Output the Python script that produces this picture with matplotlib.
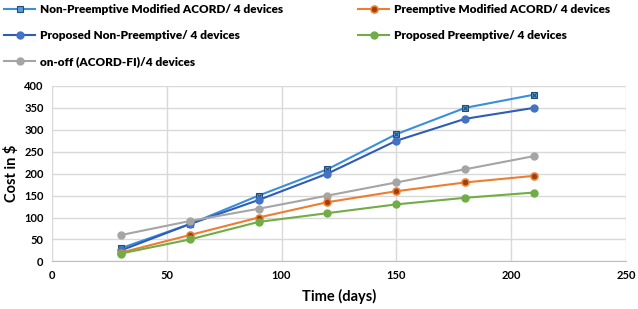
import matplotlib
matplotlib.use("Agg")
import matplotlib.pyplot as plt

days = [30, 60, 90, 120, 150, 180, 210]
np_mod_acord = [30, 85, 150, 210, 290, 350, 380]
proposed_np = [25, 85, 140, 200, 275, 325, 350]
p_mod_acord = [20, 60, 100, 135, 160, 180, 195]
proposed_p = [18, 50, 90, 110, 130, 145, 157]
on_off = [60, 92, 120, 150, 180, 210, 240]

labels = ["Non-Preemptive Modified ACORD/ 4 devices",
          "Proposed Non-Preemptive/ 4 devices",
          "on-off (ACORD-FI)/4 devices",
          "Preemptive Modified ACORD/ 4 devices",
          "Proposed Preemptive/ 4 devices"]

plt.rcParams['font.family'] = ['Lato', 'DejaVu Sans']

fig = plt.figure(figsize=(6.38, 3.09), dpi=100)
ax = fig.add_axes([0.0815, 0.154, 0.8995, 0.568])

h1, = ax.plot(days, np_mod_acord, color='#3A8FD9', lw=1.5, marker='s', ms=4.5,
              mfc='#5B9BD5', mec='#1F4E79', mew=0.8, label=labels[0])
ax.plot(days, np_mod_acord, ls='none', marker='x', ms=3, color='#1F4E79', mew=0.8)
h2, = ax.plot(days, proposed_np, color='#2F5CB8', lw=1.5, marker='o', ms=5,
              mfc='#4472C4', mec='#4472C4', label=labels[1])
h3, = ax.plot(days, on_off, color='#A5A5A5', lw=1.5, marker='o', ms=5,
              mfc='#A5A5A5', mec='#A5A5A5', label=labels[2])
h4, = ax.plot(days, p_mod_acord, color='#ED7D31', lw=1.5, marker='o', ms=5,
              mfc='#9C3F0E', mec='#ED7D31', mew=1.2, label=labels[3])
h5, = ax.plot(days, proposed_p, color='#70AD47', lw=1.5, marker='o', ms=5,
              mfc='#70AD47', mec='#70AD47', label=labels[4])

ax.set_xlim(0, 250)
ax.set_ylim(0, 400)
ax.set_xticks(range(0, 251, 50))
ax.set_yticks(range(0, 401, 50))
ax.grid(True, color='#D9D9D9', lw=1)
ax.set_axisbelow(True)
for s in ['top', 'right', 'left']:
    ax.spines[s].set_visible(False)
ax.spines['bottom'].set_color('#BFBFBF')
ax.tick_params(length=0, labelsize=8, pad=6)
for t in ax.get_xticklabels() + ax.get_yticklabels():
    t.set_fontweight('bold')
ax.set_xlabel("Time (days)", fontsize=10.5, fontweight='bold', labelpad=6)
ax.set_ylabel("Cost in $", fontsize=10.5, fontweight='bold', labelpad=4)

leg = fig.legend(handles=[h1, h2, h3, h4, h5], loc='upper left',
                 bbox_to_anchor=(-0.01, 1.02), ncol=2, frameon=False,
                 prop={'weight': 'heavy', 'size': 8.5}, handlelength=2.6,
                 handletextpad=0.4, columnspacing=6.4, labelspacing=1.25)

fig.savefig("out.png", dpi=100)
